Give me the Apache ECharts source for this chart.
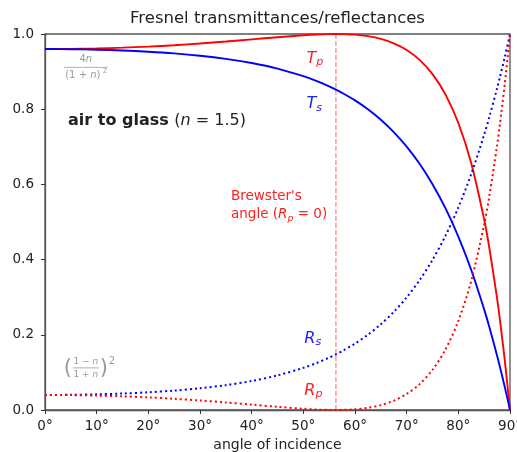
<!DOCTYPE html>
<html><head><meta charset="utf-8">
<script src="https://cdn.jsdelivr.net/npm/echarts@6/dist/echarts.min.js"></script>
<style>html,body{margin:0;padding:0;background:#fff}#c{width:517px;height:452px}</style>
</head><body><div id="c"></div>
<script>
// angle of incidence (degrees)
const angles = [0,5,10,15,20,25,30,35,40,45,50,52.5,55,56.31,57.5,60,62.5,65,67.5,70,72.5,75,77.5,80,82.5,85,86,87.5,88,89,90];
// s-polarised reflectance
const Rs = [0.0400,0.0404,0.0417,0.0438,0.0471,0.0516,0.0578,0.0661,0.0772,0.0920,0.1121,0.1246,0.1393,0.1479,0.1565,0.1766,0.2002,0.2281,0.2609,0.2996,0.3453,0.3994,0.4632,0.5386,0.6276,0.7323,0.7793,0.8555,0.8826,0.9395,1.0];
// p-polarised reflectance
const Rp = [0.0400,0.0396,0.0384,0.0363,0.0335,0.0298,0.0253,0.0200,0.0143,0.0085,0.0033,0.0013,0.0002,0.0000,0.0002,0.0018,0.0058,0.0130,0.0247,0.0425,0.0688,0.1068,0.1607,0.2368,0.3436,0.4932,0.5689,0.7034,0.7548,0.8689,1.0];
// s-polarised transmittance
const Ts = [0.9600,0.9596,0.9583,0.9562,0.9529,0.9484,0.9422,0.9339,0.9228,0.9080,0.8879,0.8754,0.8607,0.8521,0.8435,0.8234,0.7998,0.7719,0.7391,0.7004,0.6547,0.6006,0.5368,0.4614,0.3724,0.2677,0.2207,0.1445,0.1174,0.0605,0.0];
// p-polarised transmittance
const Tp = [0.9600,0.9604,0.9616,0.9637,0.9665,0.9702,0.9747,0.9800,0.9857,0.9915,0.9967,0.9987,0.9998,1.0000,0.9998,0.9982,0.9942,0.9870,0.9753,0.9575,0.9312,0.8932,0.8393,0.7632,0.6564,0.5068,0.4311,0.2966,0.2452,0.1311,0.0];
// Brewster angle line
const brewsterX = [56.31, 56.31];
const brewsterY = [0, 1];

const F = 'DejaVu Sans';
const chart = echarts.init(document.getElementById('c'), null, {renderer:'canvas'});
const pairs = (xs, ys) => xs.map((x,i)=>[x, ys[i]]);
const axisColor = '#555';

chart.setOption({
  animation:false,
  backgroundColor:'#fff',
  grid:{left:45,right:7,top:34,bottom:42,outerBoundsMode:'none',containLabel:false,show:true,borderColor:axisColor,borderWidth:1.3,backgroundColor:'transparent'},
  xAxis:{type:'value',min:0,max:90,interval:10,
    axisLine:{show:true,lineStyle:{color:axisColor,width:1.3}},
    axisTick:{show:true,inside:false,length:4,lineStyle:{color:'#333'}},
    axisLabel:{formatter:v=>v+'°',fontFamily:F,fontSize:13.5,color:'#222',margin:9},
    splitLine:{show:false},
    name:'angle of incidence',nameLocation:'middle',nameGap:28,
    nameTextStyle:{fontFamily:F,fontSize:14,color:'#222'}},
  yAxis:{type:'value',min:0,max:1,interval:0.2,
    axisLine:{show:true,lineStyle:{color:axisColor,width:1.3}},
    axisTick:{show:true,inside:false,length:4,lineStyle:{color:'#333'}},
    axisLabel:{formatter:v=>v.toFixed(1),fontFamily:F,fontSize:13.5,color:'#222',margin:11},
    splitLine:{show:false}},
  series:[
    {type:'line',name:'Brewster',data:pairs(brewsterX,brewsterY),showSymbol:false,
      itemStyle:{color:'#ff7f7f'},lineStyle:{color:'#ff7f7f',width:1.2,type:[5,2]},z:1},
    {type:'line',name:'Tp',data:pairs(angles,Tp),showSymbol:false,smooth:0.3,
      lineStyle:{color:'#ff0000',width:1.9},z:3},
    {type:'line',name:'Ts',data:pairs(angles,Ts),showSymbol:false,smooth:0.3,
      lineStyle:{color:'#0000ff',width:1.9},z:3},
    {type:'line',name:'Rs',data:pairs(angles,Rs),showSymbol:false,smooth:0.3,
      lineStyle:{color:'#0000ff',width:2,type:[2,3]},z:3},
    {type:'line',name:'Rp',data:pairs(angles,Rp),showSymbol:false,smooth:0.3,
      lineStyle:{color:'#ff0000',width:2,type:[2,3]},z:3}
  ]
});

const px = (x,y) => chart.convertToPixel({gridIndex:0},[x,y]);
const sub = (color, fs) => ({
  a:{fontFamily:F,fontStyle:'italic',fontSize:fs,lineHeight:fs+3,fill:color},
  b:{fontFamily:F,fontStyle:'italic',fontSize:fs*0.7,lineHeight:fs*0.7,fill:color,verticalAlign:'bottom'}
});
function label(letter, s, color, dx, dy){
  const p = px(dx,dy);
  return {type:'text',x:p[0],y:p[1],z:10,style:{text:'{a|'+letter+'}{b|'+s+'}',rich:sub(color,16),verticalAlign:'middle',align:'left'}};
}
const grey = '#9a9a9a';
const g = [];
// title
g.push({type:'text',x:277.5,y:19,style:{text:'Fresnel transmittances/reflectances',font:'16.5px "DejaVu Sans"',fill:'#222',align:'center',verticalAlign:'middle'}});
g.push(label('T','p','#ff2020',50.6,0.935));
g.push(label('T','s','#2020ff',50.6,0.814));
g.push(label('R','s','#2020ff',50.2,0.19));
g.push(label('R','p','#ff2020',50.2,0.052));
// air to glass
(function(){const p=px(4.45,0.769);
g.push({type:'text',x:p[0],y:p[1],z:10,style:{text:'{b|air to glass }{r|(}{i|n}{r| = 1.5)}',verticalAlign:'middle',
  rich:{b:{fontFamily:F,fontWeight:'bold',fontSize:16,fill:'#222'},r:{fontFamily:F,fontSize:16,fill:'#222'},i:{fontFamily:F,fontStyle:'italic',fontSize:16,fill:'#222'}}}});})();
// Brewster text
(function(){const p=px(36.0,0.543);
g.push({type:'text',x:p[0],y:p[1],z:10,style:{text:"{n|Brewster's}\n{n|angle (}{i|R}{s|p}{n| = 0)}",verticalAlign:'middle',
  rich:{n:{fontFamily:F,fontSize:13.5,lineHeight:18,fill:'#ff2020'},i:{fontFamily:F,fontStyle:'italic',fontSize:13.5,lineHeight:18,fill:'#ff2020'},
        s:{fontFamily:F,fontStyle:'italic',fontSize:9.5,lineHeight:12,fill:'#ff2020',verticalAlign:'bottom'}}}});})();
// fraction 4n/(1+n)^2
(function(){
  const c = px(7.9,0.91);
  g.push({type:'text',x:c[0],y:c[1]-8,z:10,style:{text:'{r|4}{i|n}',align:'center',verticalAlign:'middle',
    rich:{r:{fontFamily:F,fontSize:10,fill:grey},i:{fontFamily:F,fontStyle:'italic',fontSize:10,fill:grey}}}});
  g.push({type:'line',z:10,shape:{x1:c[0]-22,y1:c[1]-0.5,x2:c[0]+22,y2:c[1]-0.5},style:{stroke:grey,lineWidth:0.8}});
  g.push({type:'text',x:c[0]-3,y:c[1]+7.5,z:10,style:{text:'{r|(1 + }{i|n}{r|)}',align:'center',verticalAlign:'middle',
    rich:{r:{fontFamily:F,fontSize:10,fill:grey},i:{fontFamily:F,fontStyle:'italic',fontSize:10,fill:grey}}}});
  g.push({type:'text',x:c[0]+17,y:c[1]+3,z:10,style:{text:'2',font:'7px "DejaVu Sans"',fill:grey,align:'left',verticalAlign:'middle'}});
})();
// fraction ((1-n)/(1+n))^2
(function(){
  const c = px(7.9,0.112);
  g.push({type:'text',x:c[0]-18,y:c[1]+0.5,z:10,style:{text:'(',font:'21px "DejaVu Sans"',fill:grey,align:'center',verticalAlign:'middle'}});
  g.push({type:'text',x:c[0]+18,y:c[1]+0.5,z:10,style:{text:')',font:'21px "DejaVu Sans"',fill:grey,align:'center',verticalAlign:'middle'}});
  g.push({type:'text',x:c[0],y:c[1]-6,z:10,style:{text:'{r|1 − }{i|n}',align:'center',verticalAlign:'middle',
    rich:{r:{fontFamily:F,fontSize:9,fill:grey},i:{fontFamily:F,fontStyle:'italic',fontSize:9,fill:grey}}}});
  g.push({type:'line',z:10,shape:{x1:c[0]-13,y1:c[1],x2:c[0]+13,y2:c[1]},style:{stroke:grey,lineWidth:0.8}});
  g.push({type:'text',x:c[0],y:c[1]+6.5,z:10,style:{text:'{r|1 + }{i|n}',align:'center',verticalAlign:'middle',
    rich:{r:{fontFamily:F,fontSize:9,fill:grey},i:{fontFamily:F,fontStyle:'italic',fontSize:9,fill:grey}}}});
  g.push({type:'text',x:c[0]+23,y:c[1]-6,z:10,style:{text:'2',font:'10px "DejaVu Sans"',fill:grey,align:'left',verticalAlign:'middle'}});
})();
chart.setOption({graphic:{elements:g}});
</script></body></html>
